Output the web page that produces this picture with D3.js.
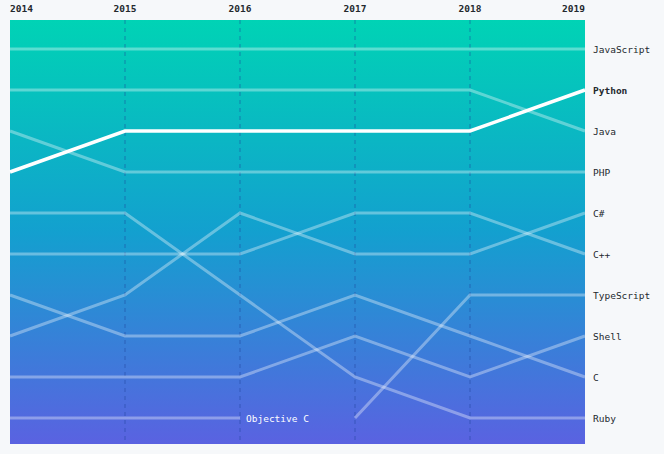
<!DOCTYPE html>
<html><head><meta charset="utf-8">
<script src="https://cdn.jsdelivr.net/npm/d3@7"></script>
<style>body{margin:0;background:#f6f8fa}</style>
</head><body><svg id="c" width="664" height="454"></svg>
<script>
const years = [2014, 2015, 2016, 2017, 2018, 2019];
const languages = ["JavaScript","Java","Python","PHP","C#","C++","Ruby","C","Shell","Objective C","TypeScript"];
// rank per year, null = not in top 10
const ranks = {
  "JavaScript": [1,1,1,1,1,1],
  "Java": [2,2,2,2,2,3],
  "Python": [4,3,3,3,3,2],
  "PHP": [3,4,4,4,4,4],
  "C#": [8,7,5,6,6,5],
  "C++": [6,6,6,5,5,6],
  "Ruby": [5,5,7,9,10,10],
  "C": [7,8,8,7,8,9],
  "Shell": [9,9,9,8,9,8],
  "Objective C": [10,10,10,null,null,null],
  "TypeScript": [null,null,null,10,7,7]
};

const svg = d3.select("#c");
const plotL = 10, plotR = 585, plotT = 20, plotB = 444;
const x = d3.scalePoint().domain(years).range([plotL, plotR]);
const y = d3.scaleLinear().domain([1, 10]).range([49, 418]);

const grad = svg.append("defs").append("linearGradient").attr("id","g")
  .attr("x1",0).attr("y1",0).attr("x2",0).attr("y2",1);
grad.append("stop").attr("offset","0%").attr("stop-color","#00d3b5");
grad.append("stop").attr("offset","50%").attr("stop-color","#13a0cf");
grad.append("stop").attr("offset","100%").attr("stop-color","#5a62e1");
svg.append("rect").attr("x",plotL).attr("y",plotT).attr("width",plotR-plotL).attr("height",plotB-plotT).attr("fill","url(#g)");

svg.selectAll(".vl").data(years.slice(1,-1)).join("line")
  .attr("x1",d=>x(d)).attr("x2",d=>x(d)).attr("y1",plotT).attr("y2",plotB)
  .attr("stroke","#1d3f9a").attr("stroke-opacity",0.5).attr("stroke-dasharray","4,4");

svg.selectAll(".yr").data(years).join("text")
  .attr("x",d=>x(d)).attr("y",12)
  .attr("text-anchor",(d,i)=>i===0?"start":i===years.length-1?"end":"middle")
  .attr("font-family","DejaVu Sans Mono").attr("font-size",9.5).attr("font-weight","bold").attr("fill","#24292e")
  .text(d=>d);

const line = d3.line().defined(d=>d[1]!=null).x(d=>x(d[0])).y(d=>y(d[1]));
const order = languages.filter(l=>l!=="Python").concat(["Python"]);
svg.selectAll(".ln").data(order).join("path")
  .attr("d",l=>line(years.map((yr,i)=>[yr,ranks[l][i]])))
  .attr("fill","none")
  .attr("stroke","#fff")
  .attr("stroke-opacity",l=>l==="Python"?1:0.35)
  .attr("stroke-width",l=>l==="Python"?3.5:3);

const last = languages.filter(l=>ranks[l][5]!=null);
svg.selectAll(".lab").data(last).join("text")
  .attr("x",593).attr("y",l=>y(ranks[l][5])+3.5)
  .attr("font-family","DejaVu Sans Mono").attr("font-size",9.5)
  .attr("font-weight",l=>l==="Python"?"bold":"normal").attr("fill","#24292e")
  .text(l=>l);

svg.append("text").attr("x",x(2016)+6).attr("y",y(10)+3.5)
  .attr("font-family","DejaVu Sans Mono").attr("font-size",9.5).attr("fill","#fff")
  .text("Objective C");
</script></body></html>
